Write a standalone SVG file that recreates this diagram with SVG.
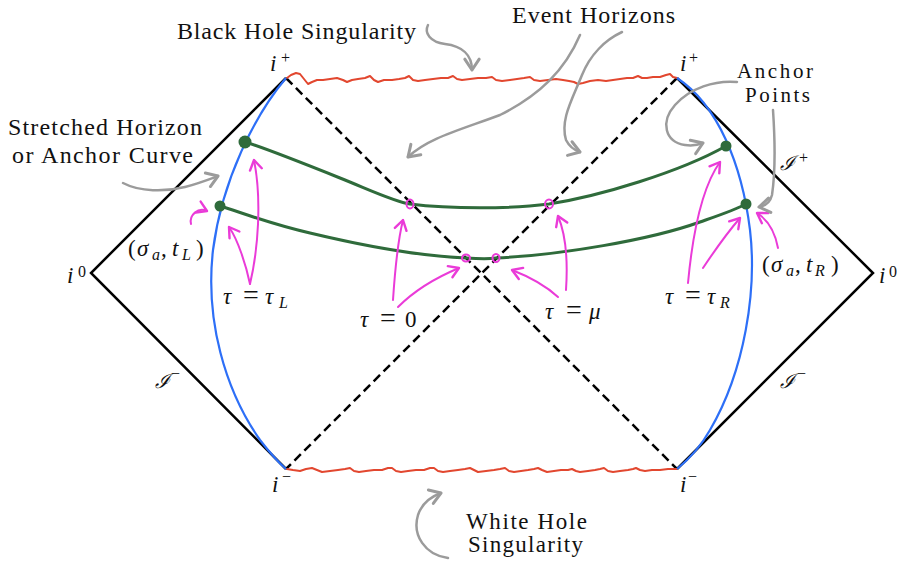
<svg xmlns="http://www.w3.org/2000/svg" width="897" height="561" viewBox="0 0 897 561">
<defs>
<style>
.frame{fill:none;stroke:#000;stroke-width:2.5;stroke-linejoin:miter}
.hor{fill:none;stroke:#000;stroke-width:2.5;stroke-dasharray:9 5}
.sing{fill:none;stroke:#e2472f;stroke-width:2;stroke-linejoin:round;stroke-linecap:round}
.blue{fill:none;stroke:#2d6ff7;stroke-width:2.2}
.green{fill:none;stroke:#2f6b3b;stroke-width:3;stroke-linecap:round}
.dot{fill:#2f6b3b}
.pc{fill:none;stroke:#ea3bd8;stroke-width:2}
.pa{fill:none;stroke:#ea3bd8;stroke-width:2;stroke-linecap:round;marker-end:url(#ahp)}
.ga{fill:none;stroke:#9b9b9b;stroke-width:2.5;stroke-linecap:round;marker-end:url(#ahg)}
.t{font-size:24px;fill:#111}
.t2{font-size:23px;fill:#111}
.t3{font-size:21px;fill:#111}
.m{font-size:23px;fill:#111;font-style:italic}
.r{font-style:normal}
.eq{font-style:normal;font-size:28px}
.s{font-size:16px}
.sc{font-size:20px;font-style:italic}
</style>
<marker id="ahg" markerUnits="userSpaceOnUse" markerWidth="24" markerHeight="24" viewBox="-12 -10 16 20" refX="0" refY="0" orient="auto">
<path d="M-9,-6 L0,0 L-9,6" fill="none" stroke="#9b9b9b" stroke-width="2.5" stroke-linecap="round" stroke-linejoin="round"/>
</marker>
<marker id="ahp" markerUnits="userSpaceOnUse" markerWidth="24" markerHeight="24" viewBox="-12 -10 16 20" refX="0" refY="0" orient="auto">
<path d="M-8,-5 L0,0 L-8,5" fill="none" stroke="#ea3bd8" stroke-width="2" stroke-linecap="round" stroke-linejoin="round"/>
</marker>
</defs>
<rect width="897" height="561" fill="#fff"/>

<g id="penrose-frame">
<polyline class="frame" points="286,78 91,273 286,469"/>
<polyline class="frame" points="677,78 873,273 677,469"/>
</g>

<g id="event-horizons">
<line class="hor" x1="286" y1="78" x2="677" y2="469"/>
<line class="hor" x1="677" y1="78" x2="286" y2="469"/>
</g>

<g id="black-hole-singularity">
<polyline class="sing" points="287,78 291,75 296,73 300,74 304,79 308,84 312,82 317,80 323,80 330,79 337,78 343,80 347,82 352,80 358,79 365,78 370,76 374,80 378,82 384,80 392,80 399,79 405,78 409,76 413,80 418,81 425,80 433,79 441,78 448,78 453,76 457,79 462,80 470,79 478,78 486,78 492,77 496,80 502,81 510,80 517,79 524,78 530,77 534,80 540,81 548,80 556,79 563,80 569,81 574,82 578,84 583,83 590,81 598,80 606,81 613,80 620,79 627,78 633,78 638,76 642,78 647,78 653,77 660,77 666,75 670,74 673,77 677,78"/>
</g>
<g id="white-hole-singularity">
<polyline class="sing" points="287,469 293,470 300,471 306,469 312,468 317,470 322,472 330,471 338,470 345,469 350,468 354,471 359,472 366,471 374,470 382,470 388,468 392,468 396,471 401,472 408,471 416,470 424,470 430,468 434,468 438,471 443,472 450,471 458,470 465,469 470,468 474,470 478,472 486,471 494,470 500,469 505,468 509,471 514,472 521,471 528,470 534,469 538,468 542,470 547,472 554,471 561,470 568,470 572,469 576,471 580,472 588,471 595,470 600,469 604,468 608,471 613,472 620,471 628,470 633,469 636,468 640,470 645,471 652,470 660,470 668,469 677,469"/>
</g>

<g id="anchor-curves">
<path class="blue" d="M286,78 C255,115 222,180 213,250 C205,320 225,390 260,440 C270,453 278,462 286,469"/>
<path class="blue" d="M677,78 C718,105 742,165 750,230 C757,290 745,370 710,430 C700,448 688,460 677,469"/>
</g>

<g id="slices">
<path class="green" d="M245,142 C265,148 300,162 340,178 C370,190 395,202 410,204 C450,209 510,209 549,204 C600,196 680,172 726,146"/>
<path class="green" d="M220,206 C240,212 270,224 310,233 C360,245 420,256 466,258 C480,259 490,259 496,258 C560,255 650,240 700,222 C720,215 735,210 746,204"/>
</g>

<g id="anchor-points">
<circle class="dot" cx="245" cy="142" r="6.5"/>
<circle class="dot" cx="220" cy="206" r="5.5"/>
<circle class="dot" cx="726" cy="146" r="5.5"/>
<circle class="dot" cx="746" cy="204" r="5.5"/>
</g>

<g id="horizon-crossings">
<ellipse class="pc" cx="410" cy="204" rx="3.5" ry="4.5"/>
<ellipse class="pc" cx="549" cy="204" rx="4" ry="4.5"/>
<ellipse class="pc" cx="466" cy="258" rx="4" ry="3.5"/>
<ellipse class="pc" cx="496" cy="258" rx="3.5" ry="4"/>
</g>

<g id="connectors">
<path class="pa" d="M191,224 C189,215 198,207 207,211"/>
<path class="pa" d="M250,284 C246,265 238,240 229,227"/>
<path class="pa" d="M250,284 C258,250 262,200 254,160"/>
<path class="pa" d="M393,300 C395,270 398,240 403,220"/>
<path class="pa" d="M398,307 C415,290 435,278 459,268"/>
<path class="pa" d="M558,297 C545,285 530,277 512,270"/>
<path class="pa" d="M566,290 C568,260 566,235 558,216"/>
<path class="pa" d="M688,283 C692,240 700,190 720,162"/>
<path class="pa" d="M703,268 C715,250 728,232 740,218"/>
<path class="pa" d="M778,248 C775,232 768,220 757,213"/>

<path class="ga" d="M428,25 C424,33 430,42 445,44 C462,46 472,55 472,70"/>
<path class="ga" d="M580,35 C565,70 540,95 500,115 C460,130 428,138 408,157"/>
<path class="ga" d="M622,32 C605,40 590,55 582,75 C572,100 560,120 566,140 C569,146 574,150 580,152"/>
<path class="ga" d="M123,183 C140,192 165,192 185,187 C200,183 210,179 218,176"/>
<path class="ga" d="M737,82 C715,80 690,88 675,105 C660,122 665,142 685,145 C692,146 698,145 703,143"/>
<path class="ga" d="M773,110 C775,140 775,175 772,195 C770,203 765,206 759,207"/>
<path class="ga" d="M448,558 C425,555 412,535 418,515 C422,503 430,497 441,493"/>
</g>

<g id="text-labels" font-family="'Liberation Serif', 'Times New Roman', serif">
<text class="t" x="177" y="39" textLength="239" lengthAdjust="spacing">Black Hole Singularity</text>
<text class="t" x="512" y="23" textLength="163" lengthAdjust="spacing">Event Horizons</text>
<text class="t" x="8" y="135" textLength="194" lengthAdjust="spacing">Stretched Horizon</text>
<text class="t" x="12" y="163" textLength="181" lengthAdjust="spacing">or Anchor Curve</text>
<text class="t3" x="737" y="78" textLength="76" lengthAdjust="spacing">Anchor</text>
<text class="t3" x="745" y="102" textLength="65" lengthAdjust="spacing">Points</text>
<text class="t2" x="466" y="529" textLength="121" lengthAdjust="spacing">White Hole</text>
<text class="t2" x="468" y="552" textLength="115" lengthAdjust="spacing">Singularity</text>
</g>

<g id="math-labels" font-family="'Liberation Serif', 'Times New Roman', 'DejaVu Serif', serif">
<text class="m" x="270" y="71">i<tspan class="r s" x="281" y="63">+</tspan></text>
<text class="m" x="680" y="71">i<tspan class="r s" x="689" y="63">+</tspan></text>
<text class="m" x="67" y="283">i<tspan class="r s" x="78" y="277">0</tspan></text>
<text class="m" x="879" y="283">i<tspan class="r s" x="889" y="277">0</tspan></text>
<text class="m" x="272" y="492">i<tspan class="r s" x="282" y="482">−</tspan></text>
<text class="m" x="680" y="492">i<tspan class="r s" x="688" y="482">−</tspan></text>

<text class="m sc" x="780" y="170">ℐ<tspan class="r s" x="799" y="163">+</tspan></text>
<text class="m sc" x="155" y="388">ℐ<tspan class="r s" x="171" y="379">−</tspan></text>
<text class="m sc" x="780" y="388">ℐ<tspan class="r s" x="797" y="379">−</tspan></text>

<text class="m" y="256"><tspan class="r" x="128">(</tspan><tspan x="137">σ</tspan><tspan class="s" x="152" y="260">a</tspan><tspan class="r" x="161" y="256">,</tspan><tspan x="172">t</tspan><tspan class="s" x="182" y="260">L</tspan><tspan class="r" x="196" y="256">)</tspan></text>
<text class="m" y="272"><tspan class="r" x="762">(</tspan><tspan x="771">σ</tspan><tspan class="s" x="786" y="276">a</tspan><tspan class="r" x="795" y="272">,</tspan><tspan x="806">t</tspan><tspan class="s" x="815" y="276">R</tspan><tspan class="r" x="831" y="272">)</tspan></text>

<text class="m" y="304"><tspan x="223">τ</tspan><tspan class="eq" x="243">=</tspan><tspan x="265">τ</tspan><tspan class="s" x="279" y="308">L</tspan></text>
<text class="m" y="304"><tspan x="665">τ</tspan><tspan class="eq" x="685">=</tspan><tspan x="707">τ</tspan><tspan class="s" x="720" y="308">R</tspan></text>
<text class="m" y="327"><tspan x="360">τ</tspan><tspan class="eq" x="380">=</tspan><tspan class="r" x="405">0</tspan></text>
<text class="m" y="319"><tspan x="545">τ</tspan><tspan class="eq" x="566">=</tspan><tspan x="589">μ</tspan></text>
</g>
</svg>
